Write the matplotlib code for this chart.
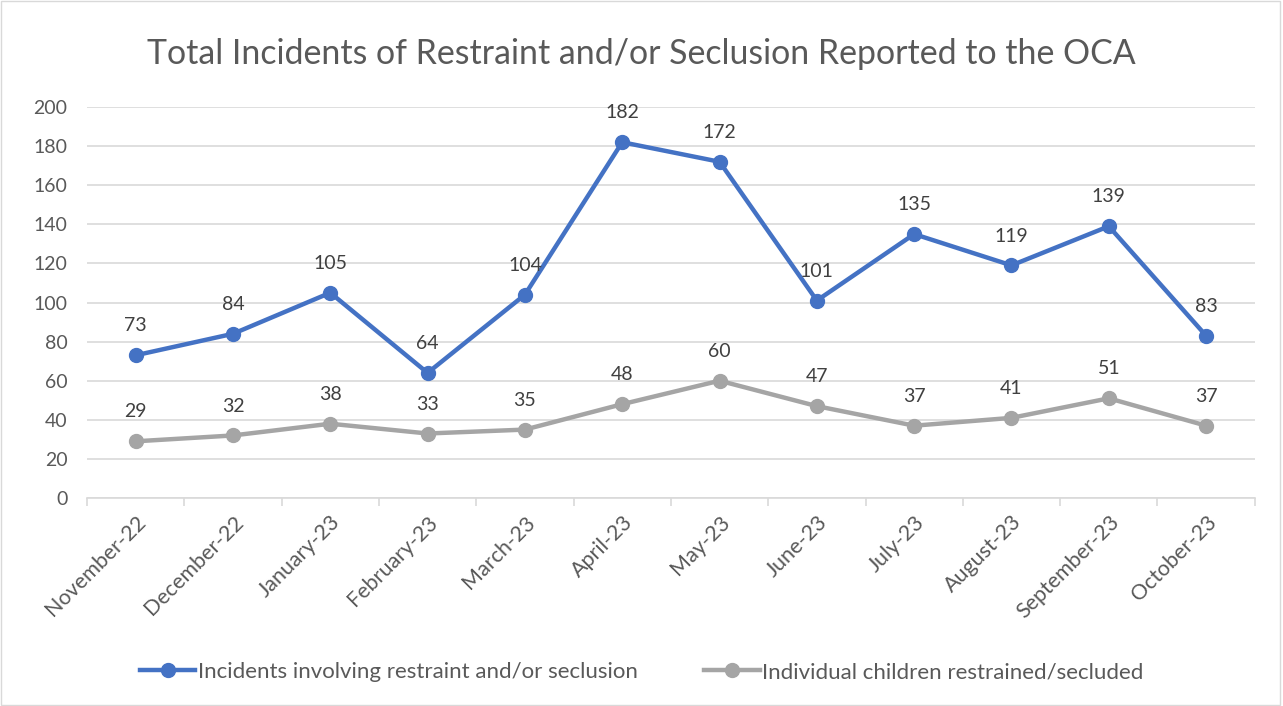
import matplotlib
matplotlib.use("Agg")
import matplotlib.pyplot as plt
from matplotlib.patches import Rectangle

months = ["November-22", "December-22", "January-23", "February-23", "March-23", "April-23",
          "May-23", "June-23", "July-23", "August-23", "September-23", "October-23"]
incidents = [73, 84, 105, 64, 104, 182, 172, 101, 135, 119, 139, 83]
children = [29, 32, 38, 33, 35, 48, 60, 47, 37, 41, 51, 37]

plt.rcParams['font.family'] = ['Lato', 'DejaVu Sans']
blue = "#4472C4"
grey = "#A5A5A5"
text_c = "#595959"

fig = plt.figure(figsize=(12.83, 7.06), dpi=100)
ax = fig.add_axes([0.0678, 0.2946, 0.9102, 0.5538])

x = list(range(len(months)))
ax.plot(x, incidents, color=blue, lw=3.2, marker='o', ms=10, label="Incidents involving restraint and/or seclusion", zorder=3)
ax.plot(x, children, color=grey, lw=3.2, marker='o', ms=10, label="Individual children restrained/secluded", zorder=3)

for xi, v in zip(x, incidents):
    ax.annotate(str(v), (xi, v), xytext=(0, 15), textcoords='offset points', ha='center', va='bottom',
                fontsize=14, color="#404040")
for xi, v in zip(x, children):
    ax.annotate(str(v), (xi, v), xytext=(0, 15), textcoords='offset points', ha='center', va='bottom',
                fontsize=14, color="#404040")

ax.set_xlim(-0.5, len(months) - 0.5)
ax.set_ylim(0, 200)
ax.set_yticks(range(0, 201, 20))
ax.tick_params(axis='y', length=0, labelsize=14, labelcolor=text_c, pad=14)
ax.set_xticks(x)
ax.set_xticklabels(months, rotation=45, ha='right', va='top', rotation_mode='anchor', fontsize=15.5, color=text_c)
ax.tick_params(axis='x', length=0, pad=10)
ax.set_xticks([i - 0.5 for i in range(len(months) + 1)], minor=True)
ax.tick_params(axis='x', which='minor', length=6, color="#D9D9D9", width=1.2)
ax.grid(axis='y', color="#D9D9D9", lw=1.2)
ax.set_axisbelow(True)
for s in ['top', 'right', 'left']:
    ax.spines[s].set_visible(False)
ax.spines['bottom'].set_color("#D9D9D9")
ax.spines['bottom'].set_linewidth(1.2)

fig.text(0.5, 0.924, "Total Incidents of Restraint and/or Seclusion Reported to the OCA",
         ha='center', va='center', fontsize=24.4, color=text_c)

leg = fig.legend(loc='center', bbox_to_anchor=(0.5, 0.048), ncol=2, frameon=False, fontsize=16,
                 handlelength=2.5, handletextpad=0.1, columnspacing=3.0)
for t in leg.get_texts():
    t.set_color(text_c)

fig.patches.append(Rectangle((0.001, 0.001), 0.997, 0.997, transform=fig.transFigure,
                             fill=False, edgecolor="#D9D9D9", lw=1))

fig.savefig("out.png", dpi=100)
